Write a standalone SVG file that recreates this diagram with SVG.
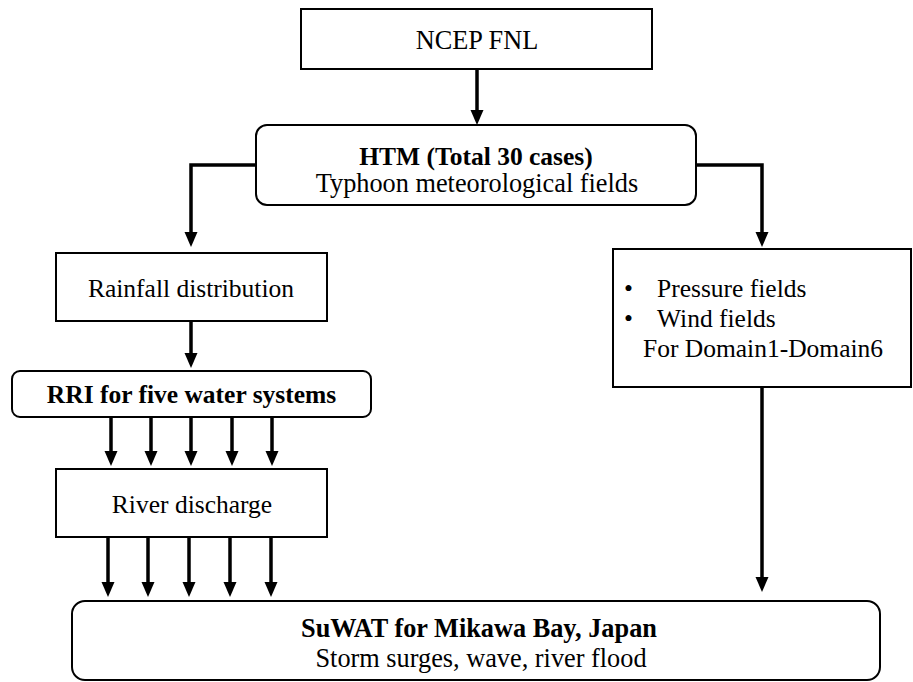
<svg xmlns="http://www.w3.org/2000/svg" width="913" height="682" viewBox="0 0 913 682">
<style>
.box{fill:#fff;stroke:#000;stroke-width:2}
.t{font-family:'Liberation Serif','Times New Roman',Times,'DejaVu Serif',serif;font-size:25.5px;fill:#000}
.l{font-size:26.3px}
.c{text-anchor:middle}
.b{font-weight:bold}
.con{fill:none;stroke:#000;stroke-width:3.5;marker-end:url(#ah)}
</style>
<defs>
<marker id="ah" markerUnits="userSpaceOnUse" markerWidth="15" markerHeight="14" viewBox="0 0 15 13" refX="7" refY="6.5" orient="auto">
<path d="M0,0 L15,6.5 L0,13 Z" fill="#000"/>
</marker>
</defs>
<rect width="913" height="682" fill="#fff"/>
<g id="connectors">
<line class="con" x1="477" y1="69" x2="477" y2="117"/>
<path class="con" d="M256,165 H191 V239"/>
<path class="con" d="M696,165 H762 V239"/>
<line class="con" x1="191" y1="321" x2="191" y2="360"/>
<line class="con" x1="111" y1="417" x2="111" y2="458"/>
<line class="con" x1="151" y1="417" x2="151" y2="458"/>
<line class="con" x1="191" y1="417" x2="191" y2="458"/>
<line class="con" x1="232" y1="417" x2="232" y2="458"/>
<line class="con" x1="272" y1="417" x2="272" y2="458"/>
<line class="con" x1="108" y1="537" x2="108" y2="589"/>
<line class="con" x1="148" y1="537" x2="148" y2="589"/>
<line class="con" x1="189" y1="537" x2="189" y2="589"/>
<line class="con" x1="230" y1="537" x2="230" y2="589"/>
<line class="con" x1="271" y1="537" x2="271" y2="589"/>
<line class="con" x1="762" y1="387" x2="762" y2="584"/>
</g>
<g id="ncep">
<rect class="box" x="301" y="9" width="351" height="60"/>
<text class="t l c" x="477" y="49">NCEP FNL</text>
</g>
<g id="htm">
<rect class="box" x="256" y="125" width="440" height="80" rx="11"/>
<text class="t c b" x="476" y="165">HTM (Total 30 cases)</text>
<text class="t l c" x="477" y="192">Typhoon meteorological fields</text>
</g>
<g id="rainfall">
<rect class="box" x="56" y="253" width="271" height="68"/>
<text class="t c" x="191" y="297">Rainfall distribution</text>
</g>
<g id="rri">
<rect class="box" x="12" y="371" width="359" height="46" rx="8"/>
<text class="t c b" x="191.5" y="403">RRI for five water systems</text>
</g>
<g id="river">
<rect class="box" x="56" y="469" width="271" height="68"/>
<text class="t c" x="192" y="513">River discharge</text>
</g>
<g id="fields">
<rect class="box" x="613" y="249" width="298" height="138"/>
<text class="t" x="624" y="297">•</text>
<text class="t" x="657" y="297">Pressure fields</text>
<text class="t" x="624" y="327">•</text>
<text class="t" x="657" y="327">Wind fields</text>
<text class="t" x="643" y="357">For Domain1-Domain6</text>
</g>
<g id="suwat">
<rect class="box" x="72" y="601" width="808" height="79" rx="13"/>
<text class="t l c b" x="479" y="637">SuWAT for Mikawa Bay, Japan</text>
<text class="t l c" x="481" y="667">Storm surges, wave, river flood</text>
</g>
</svg>
